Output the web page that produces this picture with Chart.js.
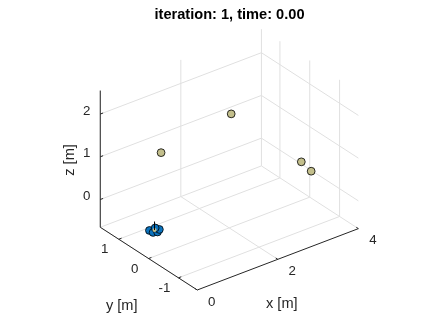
<!DOCTYPE html>
<html>
<head>
<meta charset="utf-8">
<script src="https://cdn.jsdelivr.net/npm/chart.js@4/dist/chart.umd.min.js"></script>
<style>
  html, body { margin: 0; padding: 0; background: #fff; }
  canvas { display: block; }
</style>
</head>
<body>
<canvas id="grafico3d" width="443" height="332"></canvas>
<script>
// Limites dos eixos (axis equal do MATLAB deixa valores "quebrados")
const xLim = [0, 4];
const yLim = [-1.63, 1.62];
const zLim = [-0.65, 2.55];

// Ticks e rótulos
const xTicks = [0, 2, 4];
const yTicks = [-1, 0, 1];
const zTicks = [0, 1, 2];
const xTickLabels = ["0", "2", "4"];
const yTickLabels = ["-1", "0", "1"];
const zTickLabels = ["0", "1", "2"];

// Alvos (marcadores bege)
const alvoX = [1.05, 2.05, 3.05, 3.05];
const alvoY = [1, 0, -1, -1.33];
const alvoZ = [1, 2, 0.97, 0.9];

// Drones (marcadores azuis) perto da origem
const droneX = [0.02, 0.03, 0.11, 0.2, 0.17];
const droneY = [0, -0.11, -0.15, -0.09, 0.01];
const droneZ = [0, 0, 0, 0, 0];

// Centro do enxame e a seta para cima
const centroX = [0.11];
const centroY = [-0.05];
const centroZ = [0];
const setaZ = [0, 0.2];

const titulo = "iteration: 1, time: 0.00";

// Vista padrão do MATLAB (az = -37.5, el = 30)
const az = -37.5 * Math.PI / 180;
const el = 30 * Math.PI / 180;
const escala = [51.9, 50.1, 50.8]; // px por unidade em x, y, z
const origemTela = [147, 232.7];   // onde a origem (0,0,0) cai no canvas
const largura = 443, altura = 332;

// Projeção ortográfica: 3D -> (u, v) com v para cima
function projeta(x, y, z) {
    const px = x * escala[0], py = y * escala[1], pz = z * escala[2];
    const u = px * Math.cos(az) + py * Math.sin(az);
    const v = (-px * Math.sin(az) + py * Math.cos(az)) * Math.sin(el) + pz * Math.cos(el);
    return { x: u, y: v };
}

// Junta vários segmentos num só dataset, separados por NaN
function segmentos(lista) {
    const data = [];
    lista.forEach(([a, b]) => {
        data.push(projeta(a[0], a[1], a[2]), projeta(b[0], b[1], b[2]), { x: NaN, y: NaN });
    });
    return data;
}

const [x0, x1] = xLim, [y0, y1] = yLim, [z0, z1] = zLim;

// Grade: chão e as duas paredes do fundo
const grade = [];
xTicks.forEach(t => grade.push([[t, y0, z0], [t, y1, z0]]));
yTicks.forEach(t => grade.push([[x0, t, z0], [x1, t, z0]]));
xTicks.forEach(t => grade.push([[t, y1, z0], [t, y1, z1]]));
zTicks.forEach(t => grade.push([[x0, y1, t], [x1, y1, t]]));
yTicks.forEach(t => grade.push([[x1, t, z0], [x1, t, z1]]));
zTicks.forEach(t => grade.push([[x1, y0, t], [x1, y1, t]]));
grade.push([[x0, y1, z0], [x1, y1, z0]]);

// Eixos pretos + marquinhas dos ticks
const tam = 0.07;
const eixos = [
    [[x0, y1, z0], [x0, y1, z1]],
    [[x0, y0, z0], [x0, y1, z0]],
    [[x0, y0, z0], [x1, y0, z0]]
];
zTicks.forEach(t => eixos.push([[x0, y1, t], [x0 + tam, y1, t]]));
yTicks.forEach(t => eixos.push([[x0, t, z0], [x0 + tam, t, z0]]));
xTicks.forEach(t => eixos.push([[t, y0, z0], [t, y0 + tam, z0]]));

const pontos = (xs, ys, zs) => xs.map((x, i) => projeta(x, ys[i], zs[i]));

// Textos (título, ticks e nomes dos eixos)
const textos = {
    id: "textos",
    afterDraw(chart) {
        const ctx = chart.ctx;
        const sx = chart.scales.x, sy = chart.scales.y;
        const tela = (p) => ({ x: sx.getPixelForValue(p.x), y: sy.getPixelForValue(p.y) });

        ctx.save();
        ctx.textBaseline = "middle";
        ctx.fillStyle = "#262626";
        ctx.font = "13.3px 'Liberation Sans', Arial, sans-serif";

        ctx.textAlign = "right";
        zTicks.forEach((t, i) => {
            const p = tela(projeta(x0, y1, t));
            ctx.fillText(zTickLabels[i], p.x - 10, p.y - 3);
        });
        ctx.textAlign = "center";
        yTicks.forEach((t, i) => {
            const p = tela(projeta(x0, t, z0));
            ctx.fillText(yTickLabels[i], p.x - 14, p.y + 10.5);
        });
        xTicks.forEach((t, i) => {
            const p = tela(projeta(t, y0, z0));
            ctx.fillText(xTickLabels[i], p.x + 14.5, p.y + 12);
        });

        // Nomes dos eixos
        ctx.font = "14.6px 'Liberation Sans', Arial, sans-serif";
        let p = tela(projeta((x0 + x1) / 2, y0, z0));
        ctx.fillText("x [m]", p.x + 4, p.y + 45);
        p = tela(projeta(x0, (y0 + y1) / 2, z0));
        ctx.fillText("y [m]", p.x - 27, p.y + 47);
        p = tela(projeta(x0, y1, (z0 + z1) / 2));
        ctx.save();
        ctx.translate(p.x - 30, p.y + 1);
        ctx.rotate(-Math.PI / 2);
        ctx.fillText("z [m]", 0, 0);
        ctx.restore();

        // Título
        ctx.fillStyle = "#000";
        ctx.font = "bold 14.6px 'Liberation Sans', Arial, sans-serif";
        ctx.fillText(titulo, 229.5, 14.5);
        ctx.restore();
    }
};

const linha = (data, cor, ordem) => ({
    data: data,
    showLine: true,
    borderColor: cor,
    borderWidth: 1,
    pointRadius: 0,
    spanGaps: false,
    order: ordem
});

const ctx = document.getElementById("grafico3d");

new Chart(ctx, {
    type: "scatter",
    data: {
        datasets: [
            linha(segmentos(grade), "#e0e0e0", 5),
            linha(segmentos(eixos), "#262626", 4),
            {
                // alvos
                data: pontos(alvoX, alvoY, alvoZ),
                pointRadius: 3.9,
                pointBackgroundColor: "#c3bf8c",
                pointBorderColor: "#000",
                pointBorderWidth: 0.8,
                order: 3
            },
            {
                // drones
                data: pontos(droneX, droneY, droneZ),
                pointRadius: 3.9,
                pointBackgroundColor: "#0a72bd",
                pointBorderColor: "#000",
                pointBorderWidth: 0.8,
                order: 2
            },
            {
                // centro do enxame
                data: pontos(centroX, centroY, centroZ),
                pointRadius: 2,
                pointBackgroundColor: "#c3bf8c",
                pointBorderColor: "#c3bf8c",
                pointBorderWidth: 0,
                order: 1
            },
            linha(segmentos([[[centroX[0], centroY[0], setaZ[0]], [centroX[0], centroY[0], setaZ[1]]]]), "#000", 0)
        ]
    },
    options: {
        responsive: false,
        animation: false,
        events: [],
        layout: { padding: 0 },
        plugins: {
            legend: { display: false },
            tooltip: { enabled: false }
        },
        scales: {
            x: { type: "linear", display: false, min: -origemTela[0], max: largura - origemTela[0] },
            y: { type: "linear", display: false, min: origemTela[1] - altura, max: origemTela[1] }
        }
    },
    plugins: [textos]
});
</script>
</body>
</html>
